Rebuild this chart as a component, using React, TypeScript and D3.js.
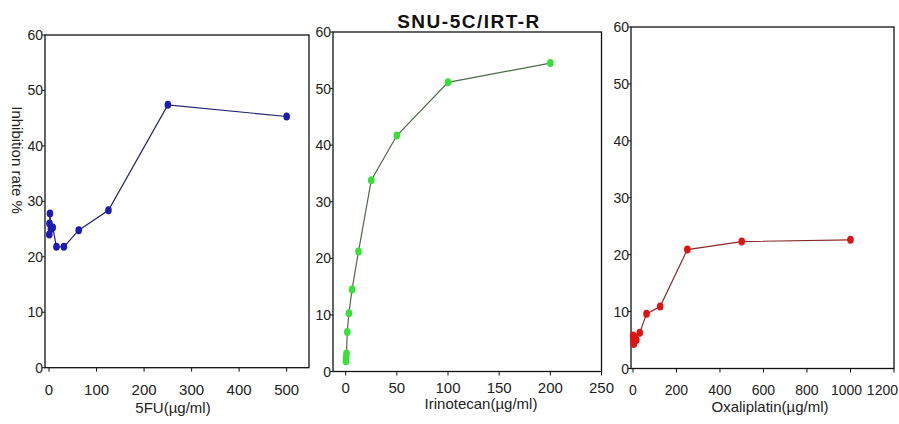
import React from "react";
import * as d3 from "d3";

const W = 899;
const H = 424;

// ---- data ----
const fuDoses = [0.49, 0.98, 1.95, 3.9, 7.8, 15.6, 31.25, 62.5, 125, 250, 500];
const fuValues = [24.0, 26.0, 27.8, 25.0, 25.3, 21.8, 21.8, 24.8, 28.4, 47.4, 45.3];

const irtDoses = [0.195, 0.39, 0.78, 1.56, 3.125, 6.25, 12.5, 25, 50, 100, 200];
const irtValues = [1.8, 2.5, 3.2, 7.0, 10.3, 14.5, 21.2, 33.8, 41.7, 51.1, 54.5];

const oxaDoses = [0.98, 1.95, 3.9, 7.8, 15.6, 31.25, 62.5, 125, 250, 500, 1000];
const oxaValues = [5.8, 5.0, 4.3, 5.5, 5.0, 6.3, 9.6, 10.9, 20.9, 22.3, 22.6];

const yTicks = [0, 10, 20, 30, 40, 50, 60];
const fuTicks = [0, 100, 200, 300, 400, 500];
const irtTicks = [0, 50, 100, 150, 200, 250];
const oxaTicks = [0, 200, 400, 600, 800, 1000, 1200];

const title = "SNU-5C/IRT-R";
const yLabel = "Inhibition rate %";

type PanelCfg = {
  left: number; right: number; top: number; bottom: number;
  xDomain: [number, number];
  doses: number[]; values: number[]; xTicks: number[];
  xLabel: string; xLabelX: number; xLabelY: number; tickY: number; tickFont: number;
  marker: string; line: string;
};

const panels: PanelCfg[] = [
  { left: 45, right: 309, top: 35, bottom: 367.7, xDomain: [-8.5, 547],
    doses: fuDoses, values: fuValues, xTicks: fuTicks,
    xLabel: "5FU(µg/ml)", xLabelX: 173, xLabelY: 413, tickY: 395, tickFont: 15,
    marker: "#1c1cb4", line: "#22226e" },
  { left: 333, right: 601.5, top: 32, bottom: 371.5, xDomain: [-12.4, 250],
    doses: irtDoses, values: irtValues, xTicks: irtTicks,
    xLabel: "Irinotecan(µg/ml)", xLabelX: 481, xLabelY: 409, tickY: 393, tickFont: 15,
    marker: "#38e038", line: "#4d6a4d" },
  { left: 631, right: 894, top: 27, bottom: 368.5, xDomain: [-9, 1200],
    doses: oxaDoses, values: oxaValues, xTicks: oxaTicks,
    xLabel: "Oxaliplatin(µg/ml)", xLabelX: 770, xLabelY: 412, tickY: 395, tickFont: 14,
    marker: "#de1414", line: "#8a2a2a" },
];

const font = "'Liberation Sans', Arial, sans-serif";

function Panel({ cfg }: { cfg: PanelCfg }) {
  const x = d3.scaleLinear().domain(cfg.xDomain).range([cfg.left, cfg.right]);
  const y = d3.scaleLinear().domain([0, 60]).range([cfg.bottom, cfg.top]);
  const pts = cfg.doses.map((d, i) => [d, cfg.values[i]] as [number, number]);
  const path = d3.line<[number, number]>().x((p) => x(p[0])).y((p) => y(p[1]))(pts) || "";
  return (
    <g>
      <rect x={cfg.left} y={cfg.top} width={cfg.right - cfg.left} height={cfg.bottom - cfg.top}
        fill="none" stroke="#111" strokeWidth={1.3} />
      {yTicks.map((t) => (
        <g key={"y" + t}>
          <line x1={cfg.left - 3} x2={cfg.left} y1={y(t)} y2={y(t)} stroke="#111" />
          <text x={cfg.left - 2} y={y(t) + 5} textAnchor="end" fontSize={14} fontFamily={font} fill="#222">{t}</text>
        </g>
      ))}
      {cfg.xTicks.map((t, i) => {
        const px = x(t);
        const n = cfg.xTicks.length;
        const last = i === n - 1;
        const overflow = px + 16 > W;
        const prevOfOverflow = i === n - 2 && x(cfg.xTicks[n - 1]) + 16 > W;
        let tx = px;
        let anchor: "middle" | "end" = "middle";
        if (last && overflow) { tx = W - 1; anchor = "end"; }
        else if (prevOfOverflow) { tx = px - 4; }
        return (
          <g key={"x" + t}>
            <line x1={px} x2={px} y1={cfg.bottom} y2={cfg.bottom + 4} stroke="#111" />
            <text x={tx} y={cfg.tickY} textAnchor={anchor}
              fontSize={cfg.tickFont} fontFamily={font} fill="#222">{t}</text>
          </g>
        );
      })}
      <path d={path} fill="none" stroke={cfg.line} strokeWidth={1.2} />
      {pts.map((p, i) => (
        <ellipse key={i} cx={x(p[0])} cy={y(p[1])} rx={3.3} ry={4} fill={cfg.marker} />
      ))}
      <text x={cfg.xLabelX} y={cfg.xLabelY} textAnchor="middle" fontSize={15} fontFamily={font} fill="#222">
        {cfg.xLabel}
      </text>
    </g>
  );
}

export default function App() {
  return (
    <svg width={W} height={H} style={{ position: "absolute", left: 0, top: 0, background: "#fff" }}>
      <rect x={0} y={0} width={W} height={H} fill="#fff" />
      <text x={469} y={28} textAnchor="middle" fontSize={19} fontWeight="bold" letterSpacing={1.5}
        fontFamily={font} fill="#111">{title}</text>
      <text transform="translate(12,160) rotate(90)" textAnchor="middle" fontSize={15} fontFamily={font} fill="#222">
        {yLabel}
      </text>
      {panels.map((p, i) => <Panel key={i} cfg={p} />)}
    </svg>
  );
}
